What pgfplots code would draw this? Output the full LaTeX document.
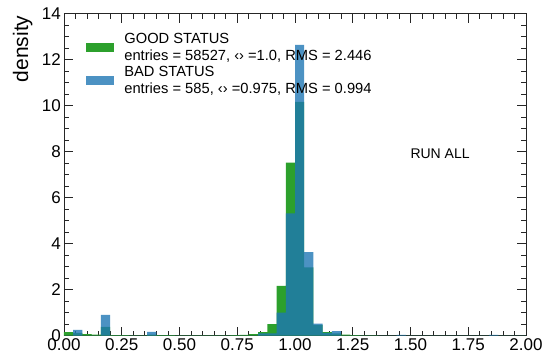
\documentclass[border=0pt]{standalone}
\usepackage{fontspec}
\setmainfont{Liberation Sans}
\usepackage{pgfplots}
\pgfplotsset{compat=1.18}
\definecolor{goodgreen}{RGB}{44,160,44}
\definecolor{badblue}{RGB}{31,119,180}
\begin{document}
\begin{tikzpicture}
\begin{axis}[
  scale only axis, width=462pt, height=322pt,
  xmin=0, xmax=2, ymin=0, ymax=14,
  xtick={0,0.25,0.5,0.75,1,1.25,1.5,1.75,2}, minor x tick num=4,
  ytick={0,2,4,6,8,10,12,14}, minor y tick num=3,
  tick align=inside, xtick pos=both, ytick pos=both,
  major tick length=9pt, minor tick length=5pt,
  axis line style={line width=0.8pt, black!85},
  every tick/.style={line width=0.7pt, black!85},
  xticklabel style={/pgf/number format/fixed, /pgf/number format/fixed zerofill, /pgf/number format/precision=2, inner xsep=2pt, inner ysep=0pt, yshift=-3pt},
  yticklabel style={inner xsep=3pt, inner ysep=0pt},
  /pgf/number format/assume math mode=true,
  tick label style={font=\fontsize{17}{19}\selectfont},
  ylabel={density},
  ylabel style={at={(rel axis cs:-0.068,0.995)}, anchor=south east, font=\fontsize{21}{23}\selectfont, inner sep=0pt},
  legend style={at={(rel axis cs:0.048,0.945)}, anchor=north west, draw=none, fill=none,
    font=\fontsize{14.7}{16.7}\selectfont, cells={align=left}, row sep=0pt, inner sep=0pt,
    nodes={inner xsep=5pt},
    /tikz/every odd column/.append style={column sep=5pt}},
  legend image code/.code={\fill[#1] (0pt,-4.5pt) rectangle (28pt,4.5pt);},
  legend cell align=left,
]
\addplot[ybar interval, fill=goodgreen, draw=none] coordinates {
(0.00,0.15) (0.04,0.12) (0.08,0.07) (0.12,0.05) (0.16,0.38) (0.20,0.02) (0.24,0.02) (0.28,0.01)
(0.32,0.01) (0.36,0.05) (0.40,0.03) (0.44,0.03) (0.48,0.01) (0.52,0.01) (0.56,0.01) (0.60,0.01)
(0.64,0.01) (0.68,0.01) (0.72,0.02) (0.76,0.04) (0.80,0.07) (0.84,0.15) (0.88,0.50) (0.92,2.17)
(0.96,7.52) (1.00,10.17) (1.04,2.97) (1.08,0.47) (1.12,0.15) (1.16,0.10) (1.20,0.05) (1.24,0.03)
(1.28,0.01) (1.32,0.01) (1.36,0.00) (1.40,0.00) (1.44,0.00) (1.48,0.00) (1.52,0.00) (1.56,0.00)
(1.60,0.00) (1.64,0.00) (1.68,0.00) (1.72,0.00) (1.76,0.00) (1.80,0.00) (1.84,0.00) (1.88,0.00)
(1.92,0.00) (1.96,0.00) (2.00,0.00)};
\addlegendentry{GOOD STATUS\\entries = 58527, ‹› =1.0, RMS = 2.446}
\addplot[ybar interval, fill=badblue, fill opacity=0.8, draw=none] coordinates {
(0.00,0.00) (0.04,0.25) (0.08,0.00) (0.12,0.00) (0.16,0.90) (0.20,0.00) (0.24,0.00) (0.28,0.00)
(0.32,0.00) (0.36,0.17) (0.40,0.00) (0.44,0.00) (0.48,0.00) (0.52,0.00) (0.56,0.00) (0.60,0.00)
(0.64,0.00) (0.68,0.00) (0.72,0.00) (0.76,0.00) (0.80,0.00) (0.84,0.10) (0.88,0.10) (0.92,1.00)
(0.96,5.32) (1.00,12.64) (1.04,3.63) (1.08,0.52) (1.12,0.12) (1.16,0.20) (1.20,0.00) (1.24,0.00)
(1.28,0.00) (1.32,0.00) (1.36,0.00) (1.40,0.00) (1.44,0.04) (1.48,0.00) (1.52,0.00) (1.56,0.00)
(1.60,0.00) (1.64,0.00) (1.68,0.00) (1.72,0.00) (1.76,0.00) (1.80,0.00) (1.84,0.04) (1.88,0.00)
(1.92,0.00) (1.96,0.00) (2.00,0.00)};
\addlegendentry{BAD STATUS\\entries = 585, ‹› =0.975, RMS = 0.994}
\node[font=\fontsize{14}{16}\selectfont] at (axis cs:1.628,7.9) {RUN ALL};
\end{axis}
\pgfresetboundingbox
\path[use as bounding box] (-64pt,-19.3pt) rectangle (480pt,335.7pt);
\end{tikzpicture}
\end{document}
